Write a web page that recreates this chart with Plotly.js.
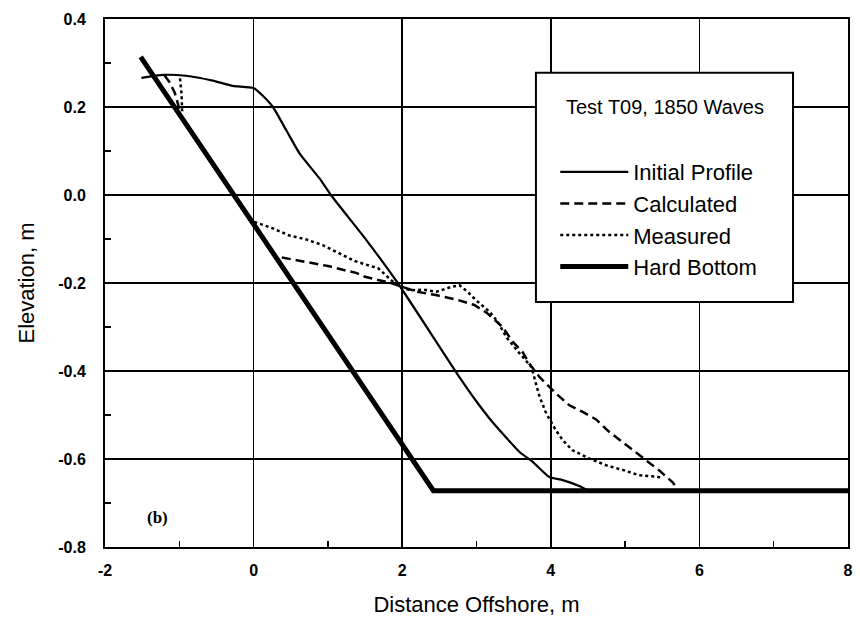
<!DOCTYPE html>
<html>
<head>
<meta charset="utf-8">
<script src="https://cdn.plot.ly/plotly-3.0.1.min.js"></script>
<style>html,body{margin:0;padding:0;background:#fff;}#chart{width:860px;height:624px;}</style>
</head>
<body>
<div id="chart"></div>
<script>
// Hard bottom
const hardX = [-1.52, 2.42, 8.0];
const hardY = [0.314, -0.672, -0.672];

// Initial profile
const initX = [-1.51, -1.22, -0.91, -0.55, -0.28, 0.0, 0.12, 0.26, 0.44, 0.62, 0.8, 0.89, 1.04, 1.52, 1.94, 2.77, 2.99, 3.2, 3.58, 3.76, 3.98, 4.16, 4.39, 4.5];
const initY = [0.266, 0.273, 0.271, 0.26, 0.248, 0.243, 0.226, 0.2, 0.147, 0.094, 0.056, 0.037, 0.0, -0.103, -0.2, -0.414, -0.467, -0.513, -0.584, -0.607, -0.641, -0.648, -0.662, -0.672];

// Calculated profile (null = hidden under hard bottom)
const calcX = [-1.2, -1.13, -1.06, -0.99, null, 0.38, 0.64, 0.84, 1.02, 1.2, 1.38, 1.5, 1.85, 2.2, 2.47, 2.74, 2.97, 3.14, 3.35, 3.49, 3.62, 3.71, 3.85, 4.07, 4.25, 4.43, 4.61, 4.77, 4.92, 5.1, 5.26, 5.46, 5.64, 5.72];
const calcY = [0.272, 0.256, 0.232, 0.19, null, -0.142, -0.15, -0.156, -0.162, -0.17, -0.177, -0.186, -0.2, -0.22, -0.228, -0.238, -0.25, -0.268, -0.3, -0.334, -0.357, -0.383, -0.414, -0.451, -0.478, -0.493, -0.51, -0.536, -0.555, -0.578, -0.6, -0.626, -0.653, -0.672];

// Measured profile
const measX = [-0.99, -0.97, -0.96, null, 0.01, 0.26, 0.48, 0.71, 0.93, 1.15, 1.36, 1.68, 1.88, 2.1, 2.28, 2.46, 2.66, 2.77, 2.88, 3.0, 3.18, 3.29, 3.4, 3.58, 3.74, 3.8, 3.85, 3.94, 4.07, 4.16, 4.29, 4.52, 4.74, 4.97, 5.19, 5.39, 5.5];
const measY = [0.265, 0.23, 0.185, null, -0.061, -0.076, -0.092, -0.101, -0.114, -0.133, -0.15, -0.167, -0.198, -0.217, -0.215, -0.22, -0.209, -0.205, -0.22, -0.24, -0.266, -0.289, -0.323, -0.36, -0.391, -0.429, -0.459, -0.497, -0.535, -0.557, -0.58, -0.599, -0.614, -0.625, -0.637, -0.64, -0.642];

const xTicks = [-2, 0, 2, 4, 6, 8];
const yTicks = [0.4, 0.2, 0.0, -0.2, -0.4, -0.6, -0.8];
const yTickText = ['0.4', '0.2', '0.0', '-0.2', '-0.4', '-0.6', '-0.8'];

const FONT = 'Liberation Sans, Arial, sans-serif';

const traces = [
  {x: initX, y: initY, name: 'Initial Profile', mode: 'lines', line: {color: '#000', width: 2.2, shape: 'spline', smoothing: 0.5}, legendgroup: 'a'},
  {x: calcX, y: calcY, name: 'Calculated', mode: 'lines', line: {color: '#000', width: 2.5, dash: '9px,5px'}, connectgaps: false, legendgroup: 'b'},
  {x: measX, y: measY, name: 'Measured', mode: 'lines', line: {color: '#000', width: 2.5, dash: 'dot'}, connectgaps: false, legendgroup: 'c'},
  {x: hardX, y: hardY, name: 'Hard Bottom', mode: 'lines', line: {color: '#000', width: 5}, legendgroup: 'd'}
];

const layout = {
  width: 860, height: 624,
  margin: {l: 105, r: 12, t: 19, b: 77},
  paper_bgcolor: '#fff', plot_bgcolor: '#fff',
  font: {family: FONT, color: '#000'},
  xaxis: {
    range: [-2, 8], tickvals: xTicks, ticktext: xTicks.map(String),
    showgrid: true, gridcolor: '#000', gridwidth: 1.5, zeroline: false,
    showline: true, linecolor: '#000', linewidth: 2, mirror: true,
    ticks: 'inside', ticklen: 6, tickwidth: 1.5, tickcolor: '#000',
    minor: {dtick: 1, ticks: 'inside', ticklen: 6, tickwidth: 1.5, tickcolor: '#000', showgrid: false},
    tickfont: {family: FONT, size: 16, weight: 'bold'},
    ticklabelstandoff: 8,
    title: {text: 'Distance Offshore, m', font: {family: FONT, size: 22}, standoff: 18}
  },
  yaxis: {
    range: [-0.8, 0.4], tickvals: yTicks, ticktext: yTickText,
    showgrid: true, gridcolor: '#000', gridwidth: 1.5, zeroline: false,
    showline: true, linecolor: '#000', linewidth: 2, mirror: true,
    ticks: 'inside', ticklen: 6, tickwidth: 1.5, tickcolor: '#000',
    minor: {dtick: 0.1, ticks: 'inside', ticklen: 6, tickwidth: 1.5, tickcolor: '#000', showgrid: false},
    tickfont: {family: FONT, size: 16, weight: 'bold'},
    ticklabelstandoff: 14,
    title: {text: 'Elevation, m', font: {family: FONT, size: 22}, standoff: 18}
  },
  showlegend: true,
  legend: {
    x: 0.606, y: 0.75, xanchor: 'left', yanchor: 'top',
    bgcolor: 'rgba(0,0,0,0)', borderwidth: 0,
    font: {family: FONT, size: 22, color: '#000'},
    itemwidth: 68, tracegroupgap: 0, traceorder: 'normal'
  },
  shapes: [
    {type: 'rect', xref: 'paper', yref: 'paper', x0: 0.580, x1: 0.926, y0: 0.464, y1: 0.898,
     fillcolor: '#fff', line: {color: '#000', width: 2}, layer: 'above'}
  ],
  annotations: [
    {xref: 'paper', yref: 'paper', x: 0.754, y: 0.833, text: 'Test T09, 1850 Waves', showarrow: false,
     font: {family: FONT, size: 20, color: '#000'}, xanchor: 'center', yanchor: 'middle'},
    {xref: 'x', yref: 'y', x: -1.46, y: -0.732, text: '(b)', showarrow: false,
     font: {family: 'Liberation Serif, Times New Roman, serif', size: 17, color: '#000', weight: 'bold'}, xanchor: 'left', yanchor: 'middle'}
  ]
};

Plotly.newPlot('chart', traces, layout, {displayModeBar: false, staticPlot: true});
</script>
</body>
</html>
